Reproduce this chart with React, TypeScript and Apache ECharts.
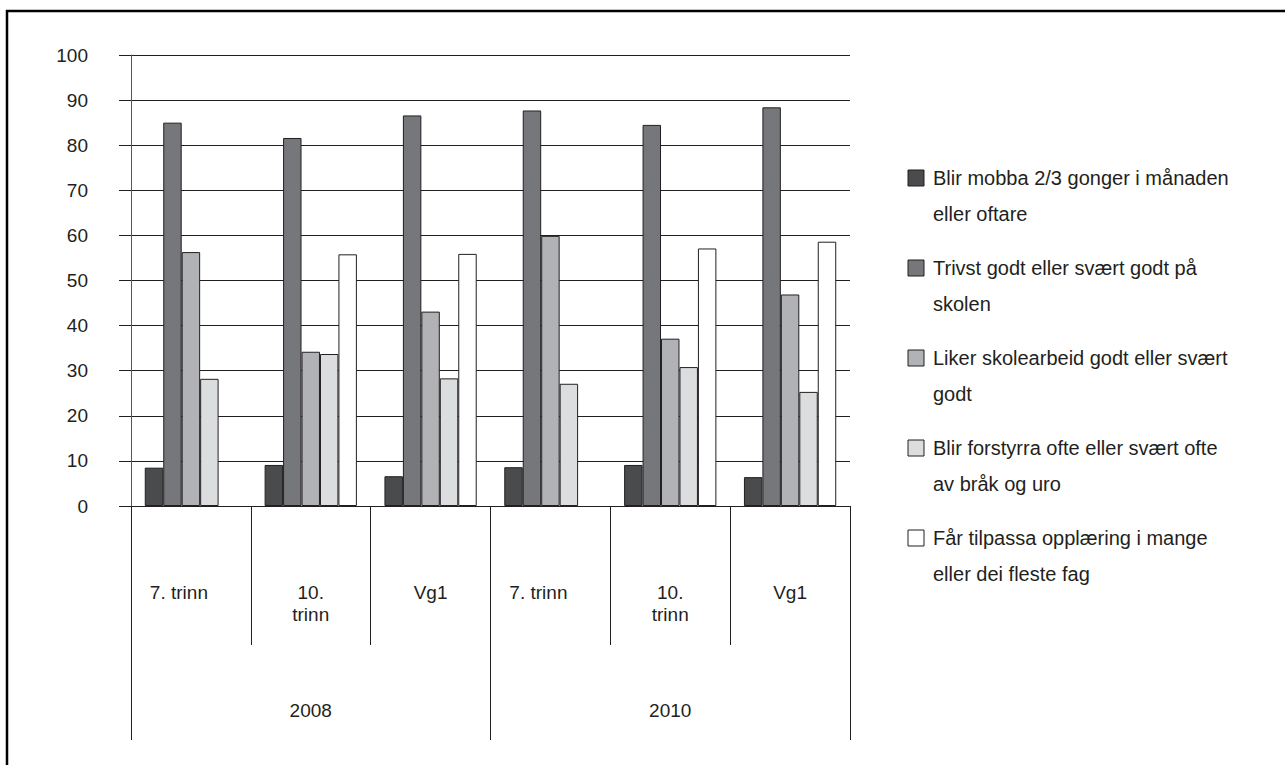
import React, { useEffect, useRef } from "react";
import * as echarts from "echarts";

const categories = ["7. trinn", "10.\ntrinn", "Vg1", "7. trinn", "10.\ntrinn", "Vg1"];
const years = ["2008", "2010"];
const seriesNames = [
  "Blir mobba 2/3 gonger i månaden\neller oftare",
  "Trivst godt eller svært godt på\nskolen",
  "Liker skolearbeid godt eller svært\ngodt",
  "Blir forstyrra ofte eller svært ofte\nav bråk og uro",
  "Får tilpassa opplæring i mange\neller dei fleste fag",
];
const mobba = [8.5, 9.1, 6.6, 8.6, 9.1, 6.4];
const trivst = [85.0, 81.6, 86.6, 87.7, 84.5, 88.4];
const liker = [56.3, 34.2, 43.1, 59.9, 37.1, 46.9];
const forstyrra = [28.2, 33.7, 28.3, 27.1, 30.8, 25.3];
const tilpassa = [null, 55.8, 55.9, null, 57.1, 58.6];
const seriesData = [mobba, trivst, liker, forstyrra, tilpassa];
const colors = ["#4a4b4d", "#76777b", "#b1b2b5", "#dcdddf", "#ffffff"];

const INK = "#231f20";
const FONT = "Liberation Sans";

export default function App() {
  const ref = useRef<HTMLDivElement>(null);
  useEffect(() => {
    document.body.style.margin = "0";
    const chart = echarts.init(ref.current!, null, { renderer: "svg" });
    const legendGraphics: any[] = [];
    seriesNames.forEach((name, i) => {
      const cy = 178 + i * 90;
      legendGraphics.push({
        type: "rect",
        shape: { x: 908, y: cy - 8, width: 16, height: 16 },
        style: { fill: colors[i], stroke: INK, lineWidth: 1 },
      });
      legendGraphics.push({
        type: "text",
        x: 933,
        y: cy - 18,
        style: {
          text: name,
          fontSize: 20,
          fontFamily: FONT,
          lineHeight: 36,
          fill: INK,
          verticalAlign: "top",
          align: "left",
        },
      });
    });
    chart.setOption({
      animation: false,
      backgroundColor: "#ffffff",
      grid: { left: 131, top: 55, width: 719, height: 451, containLabel: false },
      xAxis: [
        {
          type: "category",
          data: categories,
          position: "bottom",
          axisLine: { show: true, lineStyle: { color: INK, width: 1 } },
          axisTick: { show: true, length: 139, interval: 0, lineStyle: { color: INK, width: 1 } },
          axisLabel: {
            interval: 0,
            margin: 75,
            formatter: (v: string) => (v === "7. trinn" ? `{t|${v}}{p|}` : `{t|${v}}`),
            rich: {
              t: { fontSize: 19, lineHeight: 22, fontFamily: FONT, color: INK },
              p: { width: 24 },
            },
          },
        },
        {
          type: "category",
          data: years,
          position: "bottom",
          axisLine: { show: false },
          axisTick: { show: true, length: 234, interval: 0, lineStyle: { color: INK, width: 1 } },
          axisLabel: {
            interval: 0,
            margin: 193,
            fontSize: 19,
            lineHeight: 22,
            fontFamily: FONT,
            color: INK,
          },
        },
      ],
      yAxis: {
        type: "value",
        min: 0,
        max: 100,
        interval: 10,
        axisLine: { show: true, lineStyle: { color: "#555", width: 1 } },
        axisTick: { show: true, length: 12, lineStyle: { color: INK, width: 1 } },
        splitLine: { show: true, lineStyle: { color: INK, width: 1 } },
        axisLabel: { margin: 43, fontSize: 19, fontFamily: FONT, color: INK },
      },
      series: seriesData.map((d, i) => ({
        name: seriesNames[i],
        type: "bar",
        xAxisIndex: 0,
        data: d,
        barGap: "0%",
        barCategoryGap: "23%",
        itemStyle: { color: colors[i], borderColor: INK, borderWidth: 1 },
      })),
      graphic: [
        {
          type: "line",
          shape: { x1: 6, y1: 11, x2: 1285, y2: 11 },
          style: { stroke: "#000", lineWidth: 2.5 },
        },
        {
          type: "line",
          shape: { x1: 7, y1: 10, x2: 7, y2: 765 },
          style: { stroke: "#000", lineWidth: 2.5 },
        },
        ...legendGraphics,
      ],
    });
    return () => chart.dispose();
  }, []);
  return <div ref={ref} style={{ width: 1285, height: 765 }} />;
}
